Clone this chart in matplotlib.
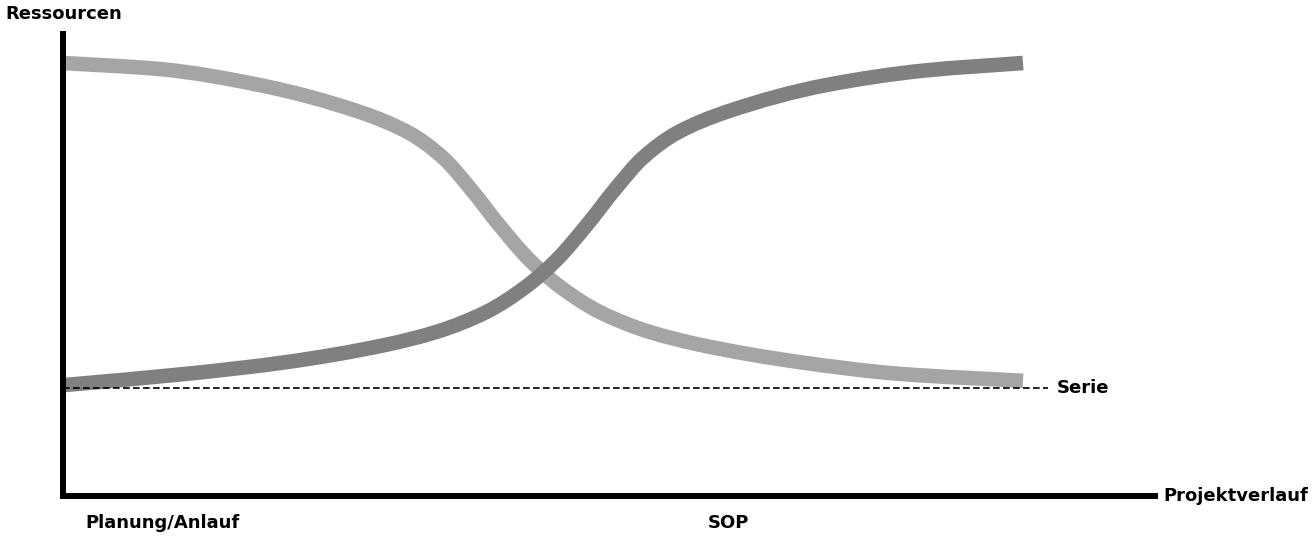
import matplotlib.pyplot as plt
from matplotlib.path import Path
from matplotlib.patches import PathPatch

# project progress (0 = start, 100 = end of curves) and resource level (0..100)
x_planung = [0, 10.1, 20.5, 30.9, 36.1, 39.6, 42.4, 45.5, 48.6, 51.8, 55.9, 61.1, 66.4, 76.8, 87.2, 100]
y_planung = [100, 98.6, 94.9, 88.7, 83.8, 78.1, 71.1, 62.4, 54.5, 48.3, 42.5, 37.9, 34.9, 30.9, 28.2, 26.6]

x_serie = [0, 12.8, 23.2, 33.6, 38.9, 44.1, 48.2, 51.4, 54.5, 57.6, 60.4, 63.9, 69.1, 79.5, 89.9, 100]
y_serie = [25.6, 28.2, 30.9, 34.9, 37.9, 42.5, 48.3, 54.5, 62.4, 71.1, 78.1, 83.8, 88.7, 94.9, 98.3, 100]

serie_level = 25.0
serie_end = 102.6

phase_labels = ["Planung/Anlauf", "SOP"]
phase_x = [2.3, 69.3]
phase_align = ["left", "center"]

light = "#a5a5a5"
dark = "#808080"


def smooth_path(xs, ys):
    # monotone cubic (pchip style) slopes, drawn as bezier segments
    n = len(xs)
    h = [xs[i + 1] - xs[i] for i in range(n - 1)]
    d = [(ys[i + 1] - ys[i]) / h[i] for i in range(n - 1)]
    m = [0.0] * n
    m[0], m[-1] = d[0], d[-1]
    for i in range(1, n - 1):
        if d[i - 1] * d[i] <= 0:
            m[i] = 0.0
        else:
            w1 = 2 * h[i] + h[i - 1]
            w2 = h[i] + 2 * h[i - 1]
            m[i] = (w1 + w2) / (w1 / d[i - 1] + w2 / d[i])
    verts = [(xs[0], ys[0])]
    codes = [Path.MOVETO]
    for i in range(n - 1):
        verts += [(xs[i] + h[i] / 3, ys[i] + m[i] * h[i] / 3),
                  (xs[i + 1] - h[i] / 3, ys[i + 1] - m[i + 1] * h[i] / 3),
                  (xs[i + 1], ys[i + 1])]
        codes += [Path.CURVE4] * 3
    return Path(verts, codes)


fig = plt.figure(figsize=(13.14, 5.46), dpi=100)
ax = fig.add_axes([0, 0, 1, 1])
ax.set_xlim(-6.5625, 130.3125)
ax.set_ylim(-11.547, 114.55)

for xs, ys, col, z in [(x_planung, y_planung, light, 2), (x_serie, y_serie, dark, 3)]:
    patch = PathPatch(smooth_path(xs, ys), fill=False, edgecolor=col, lw=10.5,
                      capstyle="butt", joinstyle="round", zorder=z)
    ax.add_patch(patch)
ax.plot([0, serie_end], [serie_level, serie_level], color="black", lw=1.2, dashes=(4, 2), zorder=4)

# axes as thick black lines
for side in ["top", "right"]:
    ax.spines[side].set_visible(False)
ax.spines["left"].set_position(("data", 0))
ax.spines["bottom"].set_position(("data", 0))
ax.spines["left"].set_bounds(0, 106.7)
ax.spines["bottom"].set_bounds(0, 113.75)
for side in ["left", "bottom"]:
    ax.spines[side].set_linewidth(4.3)
    ax.spines[side].set_capstyle("projecting")
    ax.spines[side].set_zorder(5)
ax.set_xticks([])
ax.set_yticks([])
ax.patch.set_visible(False)

font = "DejaVu Sans"
ax.text(-6.0, 111.3, "Ressourcen", fontsize=13, fontweight="bold", family=font, ha="left", va="center")
ax.text(114.6, 0, "Projektverlauf", fontsize=13, fontweight="bold", family=font, ha="left", va="center")
ax.text(103.5, serie_level, "Serie", fontsize=13, fontweight="semibold", family=font, ha="left", va="center")
for label, xp, al in zip(phase_labels, phase_x, phase_align):
    ax.text(xp, -6.2, label, fontsize=13, fontweight="semibold", family=font, ha=al, va="center")

fig.savefig("out.png", dpi=100)
